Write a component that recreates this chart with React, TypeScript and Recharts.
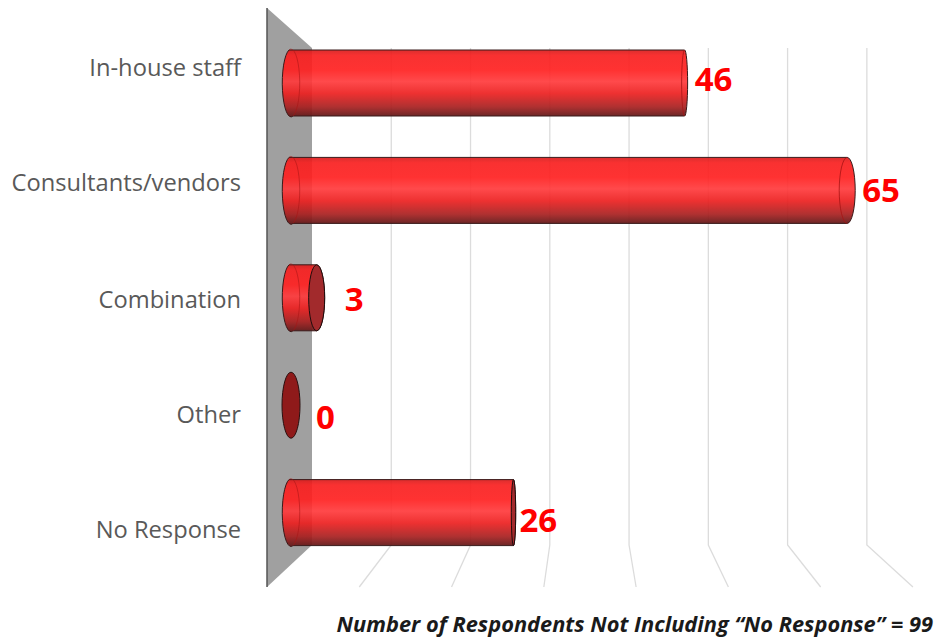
import { BarChart, Bar, XAxis, YAxis, CartesianGrid, LabelList } from "recharts";

const categories = ["In-house staff", "Consultants/vendors", "Combination", "Other", "No Response"];
const respondents = [46, 65, 3, 0, 26];
const valueTicks = [0, 10, 20, 30, 40, 50, 60, 70];

const data = categories.map((name, i) => ({ name, respondents: respondents[i] }));

// the original is a 3D chart, so end caps and labels drift per row
const capWidths = [3, 8, 8, 9, 2.2];
const darkCaps = [false, false, true, true, true];
const labelDx = [10, 15, 28, 25, 6];
const labelDy = [-5, -1, 1, 11, 7];
const tickDy = [-16, -8, 1, 9, 17];

const plotLeft = 291;
const midStep = 85.5;
const backX = 312;
const backStep = 79.2;
const frontX = 267;
const frontStep = 92.2;
const wallTop = 48;
const wallBottom = 545;
const floorY = 587;
const wallPeak = 8;

const GridLine = (props: any) => {
  const k = (props.x1 - plotLeft) / midStep;
  const back = backX + k * backStep;
  const front = frontX + k * frontStep;
  return (
    <g key={props.key}>
      {props.index === 0 && (
        <>
          <polygon
            points={`${frontX},${wallPeak} ${backX},${wallTop} ${backX},${wallBottom} ${frontX},${floorY}`}
            fill="#a0a0a0"
          />
          <line x1={frontX} y1={wallPeak} x2={frontX} y2={floorY} stroke="#555" strokeWidth={1.5} />
        </>
      )}
      {props.index > 0 && (
        <polyline
          points={`${back},${wallTop} ${back},${wallBottom} ${front},${floorY}`}
          fill="none"
          stroke="#dcdcdc"
          strokeWidth={1.3}
        />
      )}
    </g>
  );
};

const Cylinder = (props: any) => {
  const { x, y, width, height, index } = props;
  const end = x + width;
  const bottom = y + height;
  const ry = height / 2;
  const capRx = capWidths[index];
  const topX = x - 2;
  const bottomX = x + 2;
  const dark = darkCaps[index];

  if (width === 0) {
    return (
      <ellipse cx={x} cy={y + ry} rx={9} ry={ry} fill="#8f1a1a" stroke="#2a1010" strokeWidth={1} />
    );
  }

  return (
    <g>
      <path
        d={`M${topX},${y} L${end},${y} A${capRx},${ry} 0 0 1 ${end},${bottom} L${bottomX},${bottom} A8.5,${ry} 0 0 1 ${topX},${y} Z`}
        fill="url(#cylinderBody)"
        stroke="#3a1a1a"
        strokeWidth={1}
      />
      <path
        d={`M${topX},${y} A8.5,${ry} 0 0 1 ${bottomX},${bottom}`}
        fill="none"
        stroke="#a81414"
        strokeOpacity={0.55}
        strokeWidth={1}
      />
      {dark ? (
        <ellipse cx={end} cy={y + ry} rx={capRx} ry={ry} fill="#a22a2c" stroke="#1e0c0c" strokeWidth={1} />
      ) : (
        <path
          d={`M${end},${y} A${capRx},${ry} 0 0 0 ${end},${bottom}`}
          fill="none"
          stroke="#a81414"
          strokeOpacity={0.8}
          strokeWidth={1}
        />
      )}
    </g>
  );
};

const CategoryTick = (props: any) => (
  <text
    x={241}
    y={props.y + tickDy[props.index]}
    textAnchor="end"
    dominantBaseline="central"
    fontFamily="Open Sans"
    fontSize={23.7}
    fill="#595959"
  >
    {props.payload.value}
  </text>
);

const ValueLabel = (props: any) => {
  const { x, y, width, height, index, value } = props;
  return (
    <text
      x={x + width + labelDx[index]}
      y={y + height / 2 + labelDy[index]}
      dominantBaseline="central"
      fontFamily="Open Sans"
      fontWeight={700}
      fontSize={33}
      fill="#ff0000"
    >
      {value}
    </text>
  );
};

export default function App() {
  return (
    <div style={{ position: "absolute", left: 0, top: 0, width: 935, height: 639, background: "#fff" }}>
      <BarChart
        width={935}
        height={639}
        layout="vertical"
        data={data}
        margin={{ top: 29, right: 45, bottom: 73, left: 0 }}
      >
        <defs>
          <linearGradient id="cylinderBody" x1="0" y1="0" x2="0" y2="1">
            <stop offset="0" stopColor="#d81c1c" stopOpacity={0.92} />
            <stop offset="0.08" stopColor="#f81f1f" stopOpacity={0.92} />
            <stop offset="0.3" stopColor="#ff2020" stopOpacity={0.92} />
            <stop offset="0.47" stopColor="#ff3a3c" stopOpacity={0.92} />
            <stop offset="0.65" stopColor="#ec1f1f" stopOpacity={0.92} />
            <stop offset="0.85" stopColor="#a81f1f" stopOpacity={0.92} />
            <stop offset="1" stopColor="#5e1a1a" stopOpacity={0.95} />
          </linearGradient>
        </defs>
        <CartesianGrid horizontal={false} vertical={GridLine} />
        <XAxis type="number" domain={[0, 70]} ticks={valueTicks} hide />
        <YAxis
          type="category"
          dataKey="name"
          width={291}
          axisLine={false}
          tickLine={false}
          tick={CategoryTick}
          interval={0}
        />
        <Bar dataKey="respondents" barSize={66} shape={Cylinder} isAnimationActive={false}>
          <LabelList dataKey="respondents" content={ValueLabel} />
        </Bar>
      </BarChart>
      <div
        style={{
          position: "absolute",
          right: 2,
          top: 609,
          fontFamily: "Open Sans",
          fontWeight: 700,
          fontStyle: "italic",
          fontSize: 21.8,
          color: "#1a1a1a",
          whiteSpace: "nowrap",
        }}
      >
        Number of Respondents Not Including “No Response” = 99
      </div>
    </div>
  );
}
